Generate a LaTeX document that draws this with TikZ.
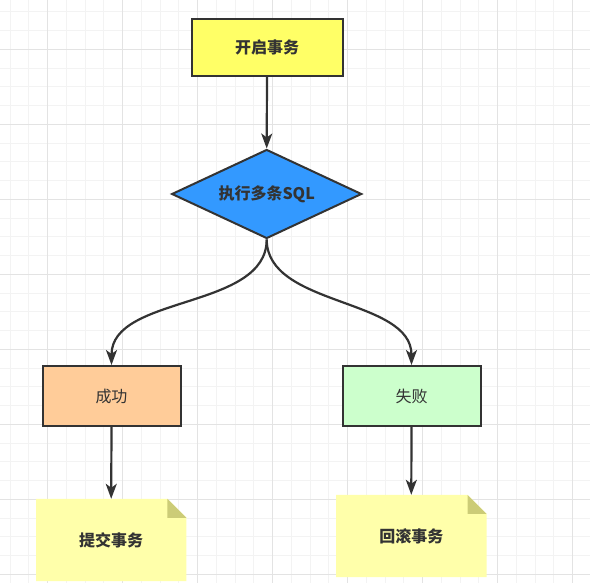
\documentclass[tikz,border=0pt]{standalone}
\usepackage{fontspec}
\setmainfont{Noto Sans CJK SC}
\usetikzlibrary{shapes.geometric,arrows.meta}
\definecolor{txt}{HTML}{333333}
\definecolor{gridminor}{HTML}{F3F3F3}
\definecolor{gridmajor}{HTML}{E3E3E3}
\definecolor{startfill}{HTML}{FFFF66}
\definecolor{decfill}{HTML}{3399FF}
\definecolor{okfill}{HTML}{FFCC99}
\definecolor{failfill}{HTML}{CCFFCC}
\definecolor{notefill}{HTML}{FFFFAA}
\definecolor{foldfill}{HTML}{CCCC77}
\begin{document}
\begin{tikzpicture}[x=1pt,y=-1pt,
  lbl/.style={text=txt,font=\fontsize{16}{19}\selectfont},
  blbl/.style={text=txt,font=\fontsize{16}{19}\selectfont\bfseries},
  box/.style={draw=txt,line width=2pt,inner sep=0pt},
  notebox/.style={inner sep=0pt,minimum width=150pt,minimum height=82pt},
  arr/.style={draw=txt,line width=2.2pt,-{Stealth[length=15pt,width=11pt,inset=4pt]}}
]
\useasboundingbox (0,0) rectangle (590,583);
\fill[white] (0,0) rectangle (590,583);
% grid
\foreach \i in {0,...,31}{
  \pgfmathsetmacro\gx{10.2+18.75*\i}
  \draw[gridminor,line width=1pt] (\gx,0) -- (\gx,583);
  \pgfmathsetmacro\gy{11.8+18.75*\i}
  \draw[gridminor,line width=1pt] (0,\gy) -- (590,\gy);
}
\foreach \i in {0,...,7}{
  \pgfmathsetmacro\gx{47.7+75*\i}
  \draw[gridmajor,line width=1pt] (\gx,0) -- (\gx,583);
  \pgfmathsetmacro\gy{49.3+75*\i}
  \draw[gridmajor,line width=1pt] (0,\gy) -- (590,\gy);
}
% nodes
\node[box,blbl,fill=startfill,minimum width=151pt,minimum height=57pt] (start) at (267,47.5) {开启事务};
\node[box,blbl,diamond,aspect=2.1,fill=decfill,minimum width=190pt,minimum height=89pt] (dec) at (266.7,194) {执行多条SQL};
\node[box,lbl,fill=okfill,minimum width=138pt,minimum height=60pt] (ok) at (111.5,396) {成功};
\node[box,lbl,fill=failfill,minimum width=138pt,minimum height=60pt] (fail) at (411.5,396) {失败};
\node[notebox] (commit) at (111.2,540) {};
\node[notebox] (rollback) at (411.3,536) {};
\foreach \n in {commit,rollback}{
  \fill[notefill] (\n.south west) -- (\n.north west) -- ([xshift=-19pt]\n.north east)
     -- ([yshift=-19pt]\n.north east) -- (\n.south east) -- cycle;
  \fill[foldfill] ([xshift=-19pt]\n.north east) -- ([yshift=-19pt]\n.north east)
     -- ([xshift=-19pt,yshift=-19pt]\n.north east) -- cycle;
}
\node[blbl] (commitlbl) at (commit.center) {提交事务};
\node[blbl] (rollbacklbl) at (rollback.center) {回滚事务};
% connectors
\draw[arr] (start.south) -- (dec.north);
\draw[arr] (dec.south) to[out=-90,in=90,looseness=0.9] (ok.north);
\draw[arr] (dec.south) to[out=-90,in=90,looseness=0.9] (fail.north);
\draw[arr] (ok.south) -- (commit.north);
\draw[arr] (fail.south) -- (rollback.north);
\end{tikzpicture}
\end{document}
